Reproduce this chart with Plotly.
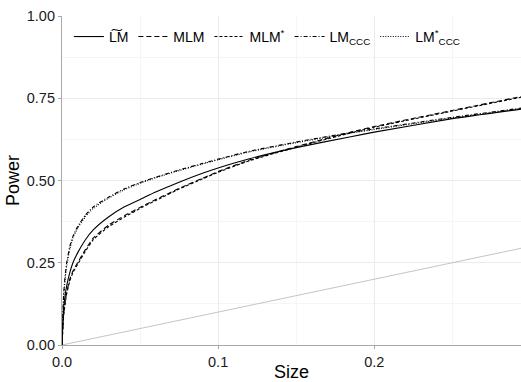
import plotly.graph_objects as go

size = [0, 0.001, 0.002, 0.003, 0.005, 0.007, 0.01, 0.015, 0.02, 0.03, 0.04, 0.052, 0.06, 0.075,
        0.09, 0.1, 0.12, 0.15, 0.185, 0.2, 0.25, 0.294]

lm_tilde = [0, .11, .15, .18, .22, .25, .28, .32, .35, .39, .42, .447, .465, .495, .522, .538,
            .566, .60, .633, .647, .688, .717]
mlm      = [0, .09, .13, .16, .20, .225, .25, .29, .325, .365, .393, .423, .442, .476, .507, .527,
            .562, .603, .647, .664, .713, .755]
mlm_star = [0, .085, .125, .155, .195, .22, .245, .285, .32, .36, .389, .42, .439, .474, .505, .525,
            .56, .601, .645, .662, .711, .753]
lm_ccc   = [0, .15, .21, .25, .30, .33, .36, .395, .42, .45, .475, .497, .51, .532, .552, .565,
            .589, .617, .646, .657, .692, .72]
lm_ccc_s = [0, .14, .20, .24, .29, .325, .355, .39, .415, .447, .472, .495, .508, .53, .55, .563,
            .587, .615, .644, .655, .69, .718]

names = ["L\u0360M", "MLM", "MLM<sup>*</sup>", "LM<sub>CCC</sub>", "LM<sup>*</sup><sub>CCC</sub>"]
series = [lm_tilde, mlm, mlm_star, lm_ccc, lm_ccc_s]
dashes = ["solid", "5px,3px", "3px,2px", "4px,2px,1px,2px", "1px,1.5px"]

diag = [0, 0.294]

fig = go.Figure()
fig.add_trace(go.Scatter(x=diag, y=diag, mode="lines", line=dict(color="#BDBDBD", width=0.9),
                         showlegend=False, hoverinfo="skip"))
for n, s, d in zip(names, series, dashes):
    fig.add_trace(go.Scatter(x=size, y=s, mode="lines", name=n,
                             line=dict(color="black", width=1.1, dash=d, shape="spline", smoothing=0.5)))

font = "Liberation Sans, Arial, sans-serif"
fig.update_layout(
    width=521, height=382,
    margin=dict(l=62, r=0, t=16, b=34),
    paper_bgcolor="white", plot_bgcolor="white",
    font=dict(family=font, color="black", size=14),
    legend=dict(orientation="h", x=0.015, y=0.985, xanchor="left", yanchor="top",
                bgcolor="rgba(0,0,0,0)", font=dict(size=14), itemwidth=30,
                tracegroupgap=0),
    xaxis=dict(range=[0, 0.294], tickvals=[0, 0.1, 0.2], ticktext=["0.0", "0.1", "0.2"],
               showline=True, linecolor="#A8A8A8", linewidth=1.2,
               ticks="outside", ticklen=3, tickcolor="#A8A8A8",
               showgrid=True, gridcolor="#EBEBEB", gridwidth=1,
               minor=dict(tickvals=[0.05, 0.15, 0.25], showgrid=True, gridcolor="#F5F5F5", gridwidth=0.6, ticks=""),
               zeroline=False,
               title=dict(text="Size", font=dict(size=18), standoff=0),
               tickfont=dict(size=14.5, color="#1a1a1a")),
    yaxis=dict(range=[0, 1], tickvals=[0, 0.25, 0.5, 0.75, 1.0],
               ticktext=["0.00", "0.25", "0.50", "0.75", "1.00"],
               showline=True, linecolor="#A8A8A8", linewidth=1.2,
               ticks="outside", ticklen=3, tickcolor="#A8A8A8",
               showgrid=True, gridcolor="#EBEBEB", gridwidth=1,
               minor=dict(tickvals=[0.125, 0.375, 0.625, 0.875], showgrid=True, gridcolor="#F5F5F5", gridwidth=0.6, ticks=""),
               zeroline=False,
               title=dict(text="Power", font=dict(size=18), standoff=2),
               tickfont=dict(size=14.5, color="#1a1a1a")),
)

fig.write_html("out.html")
